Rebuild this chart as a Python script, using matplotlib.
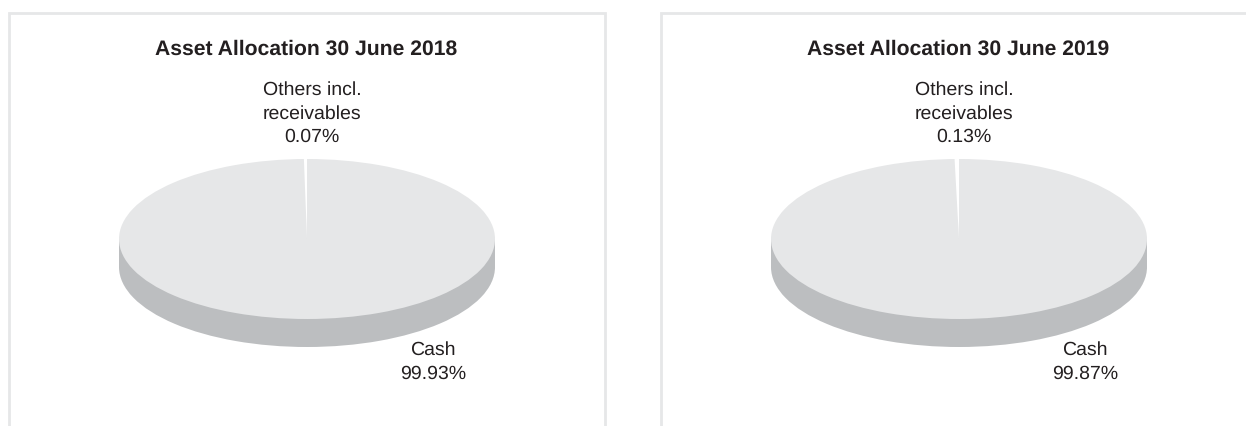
import matplotlib
matplotlib.use("Agg")
import matplotlib.pyplot as plt

plt.rcParams['font.family'] = ['Liberation Sans', 'DejaVu Sans']
plt.rcParams['text.hinting'] = 'none'

W, H = 1246, 426
titles = ["Asset Allocation 30 June 2018", "Asset Allocation 30 June 2019"]
categories = ["Others incl.\nreceivables", "Cash"]
others = [0.07, 0.13]
cash = [99.93, 99.87]

# The drawn gap is wider than the true share, as in the source artwork
sliver_deg = [0.95, 1.35]

TEXT = "#231f20"
TOP = "#e6e7e8"
SIDE = "#bcbec0"
BORDER = "#e6e7e8"

fig = plt.figure(figsize=(W / 100, H / 100), dpi=100, facecolor="white")
bg = fig.add_axes([0, 0, 1, 1])
bg.set_xlim(0, W)
bg.set_ylim(H, 0)
bg.axis("off")

panels = [(9, 605, 307), (661, 1257, 959)]
CY, RX, RY, DEPTH = 239, 188, 80, 28

for i, (x0, x1, cx) in enumerate(panels):
    bg.plot([x0, x0, x1, x1], [H + 5, 12.5, 12.5, H + 5], color=BORDER, lw=2.0,
            solid_joinstyle="miter", clip_on=True)
    bg.text(cx - 1, 49.5, titles[i], ha="center", va="center", fontsize=15.2,
            fontweight="bold", color=TEXT)
    bg.text(cx + 5, 113.5, f"{categories[0]}\n{others[i]:.2f}%", ha="center", va="center",
            fontsize=14, color=TEXT, linespacing=1.43)
    bg.text(cx + 126, 362, f"{categories[1]}\n{cash[i]:.2f}%", ha="center", va="center",
            fontsize=14, color=TEXT, linespacing=1.43)

    ax = fig.add_axes([(cx - RX) / W, 1 - (CY + RY + DEPTH) / H,
                       2 * RX / W, (2 * RY + DEPTH) / H])
    vals = [others[i], cash[i]]
    d = DEPTH / RY
    ax.pie(vals, colors=[SIDE, SIDE], startangle=90, counterclock=True,
           center=(0, -d), radius=1)
    ax.bar(0, d, width=2, bottom=-d, color=SIDE, linewidth=0)
    wedges, _ = ax.pie(vals, colors=["white", TOP], startangle=90, counterclock=True,
                       center=(0, 0), radius=1)
    wedges[0].set_theta2(90 + sliver_deg[i])
    wedges[0].set_linewidth(0)
    wedges[0].set_zorder(5)
    ax.set_aspect("auto")
    ax.set_xlim(-1, 1)
    ax.set_ylim(-1 - d, 1)
    ax.axis("off")

fig.savefig("out.png", dpi=100, facecolor="white")
